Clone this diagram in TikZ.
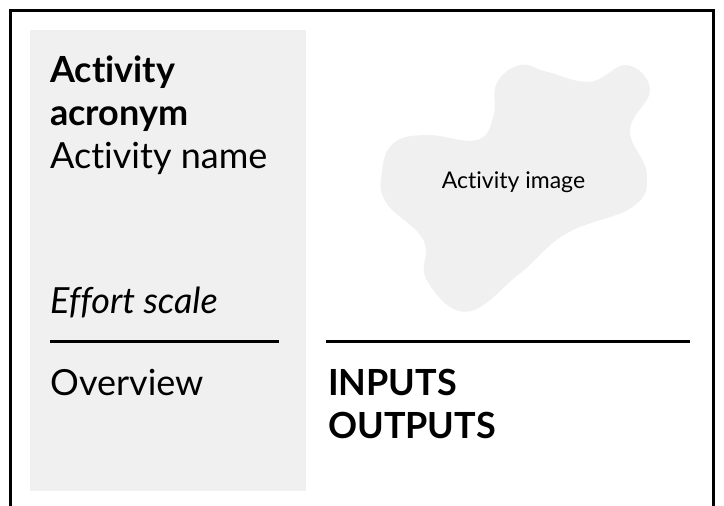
\documentclass[tikz,border=0pt]{standalone}
\usepackage{fontspec}
\setmainfont{Lato}[Ligatures=NoCommon]
\usetikzlibrary{positioning}

\definecolor{panelgray}{HTML}{F0F0F0}

\tikzset{
	frame/.style={line width=3.8pt, line cap=rect},
	rule/.style={line width=3pt},
	panel/.style={fill=panelgray, draw=none},
	label/.style={inner sep=0pt, anchor=base west, font=\fontsize{36}{43}\selectfont},
	blobtext/.style={inner sep=0pt, font=\fontsize{23}{27}\selectfont},
}

\begin{document}
\begin{tikzpicture}[x=1pt, y=-1pt]
	\useasboundingbox (0,0) rectangle (724,506);
	
	% outer frame, open at the bottom
	\draw[frame] (10.5,520) -- (10.5,10.5) -- (713.5,10.5) -- (713.5,520);
	
	% left panel
	\fill[panel] (30,30) rectangle (306,491);
	
	% image placeholder
	\fill[panelgray] plot[smooth cycle, tension=0.7] coordinates {
		(496.7,83.3) (520,65) (546.7,71.7) (590,81.7) (626.7,65) (650,90)
		(630,130) (646.7,173.3) (633,206.7) (566.7,233.3) (520,273.3)
		(466.7,311.7) (426.7,280) (423.3,240) (386.7,203.3) (381.7,173.3)
		(393.3,143.3) (426.7,135) (476.7,140) (493.3,116.7)};
	\node[blobtext] (image) at (513.5,182) {Activity image};
	
	% left column
	\node[label, font=\fontsize{36}{43}\selectfont\bfseries] (acttitle) at (50,82) {Activity};
	\node[label, font=\fontsize{36}{43}\selectfont\bfseries, below=43pt of acttitle.base west, anchor=base west] (acronym) {acronym};
	\node[label, below=43pt of acronym.base west, anchor=base west] (actname) {Activity name};
	\node[label, font=\fontsize{36}{43}\selectfont\itshape] (effort) at (50,313) {Effort scale};
	\node[label] (overview) at (50,395) {Overview};
	
	% right column
	\node[label, font=\fontsize{36}{43}\selectfont\bfseries] (inputs) at (328,395) {INPUTS};
	\node[label, font=\fontsize{36}{43}\selectfont\bfseries, below=43pt of inputs.base west, anchor=base west] (outputs) {OUTPUTS};
	
	% rules
	\coordinate (lrulea) at (50,341);
	\coordinate (lruleb) at (279,341);
	\coordinate (rrulea) at (326,341);
	\coordinate (rruleb) at (690,341);
	\draw[rule] (lrulea) -- (lruleb);
	\draw[rule] (rrulea) -- (rruleb);
	
\end{tikzpicture}
\end{document}
